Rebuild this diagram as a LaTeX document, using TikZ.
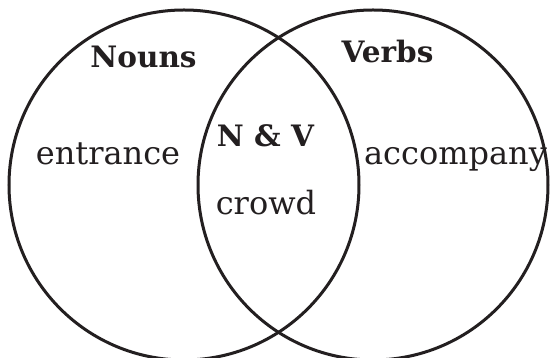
\documentclass[tikz,border=0pt]{standalone}
\usepackage{fontspec}
\setmainfont{DejaVu Serif}
\definecolor{ink}{HTML}{231F20}
\begin{document}
\begin{tikzpicture}[x=1pt,y=1pt,
  ring/.style={draw=ink,line width=3pt},
  word/.style={inner sep=0pt,anchor=base,text=ink,font=\fontsize{32}{36}\selectfont},
  head/.style={inner sep=0pt,anchor=base,text=ink,font=\fontsize{29.5}{34}\selectfont\bfseries}]
\useasboundingbox (0,0) rectangle (550,358);
\fill[white] (0,0) rectangle (550,358);
\node[ring,circle,minimum size=350pt,inner sep=0pt] (nouns) at (184,173) {};
\node[ring,circle,minimum size=350pt,inner sep=0pt] (verbs) at (373,173) {};
\node[head] (nlabel) at (143.5,290) {Nouns};
\node[head] (vlabel) at (387.5,295) {Verbs};
\node[head] (nv) at (265.5,211) {N \& V};
\node[word] (entrance) at (108,193) {entrance};
\node[word] (accompany) at (455.5,193) {accompany};
\node[word] (crowd) at (266,143) {crowd};
\end{tikzpicture}
\end{document}
